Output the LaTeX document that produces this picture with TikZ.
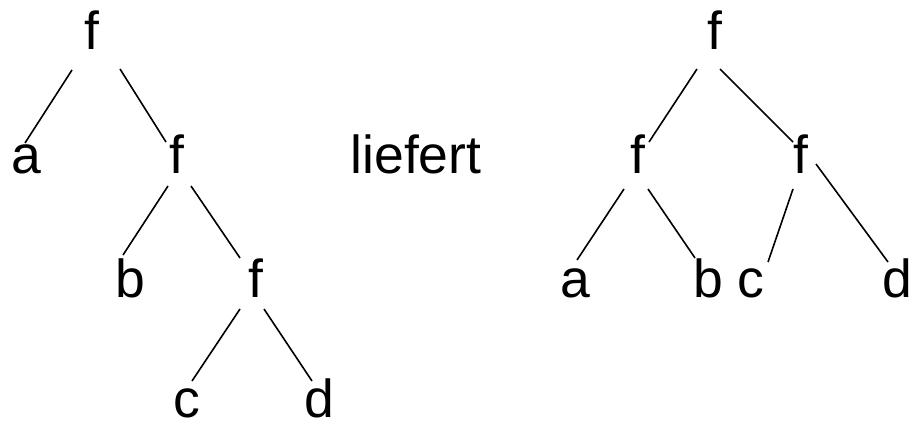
\documentclass[tikz,border=0pt]{standalone}
\usepackage{fontspec}
\setmainfont{Liberation Sans}
\begin{document}
\begin{tikzpicture}[x=1pt,y=-1pt,
  lbl/.style={anchor=base,inner sep=0pt,font=\fontsize{53.5}{60}\selectfont},
  edge/.style={line width=1.6pt,black}]
\useasboundingbox (0,0) rectangle (915,422);
% left tree
\node[lbl] (r1) at (92,50) {f};
\node[lbl] (a1) at (26,174) {a};
\node[lbl] (f2) at (177,174) {f};
\node[lbl] (b1) at (130,297) {b};
\node[lbl] (f3) at (256,297) {f};
\node[lbl] (c1) at (187,417) {c};
\node[lbl] (d1) at (319,417) {d};
% middle word
\node[lbl] (lf) at (416,174) {liefert};
% right tree
\node[lbl] (R) at (715,50) {f};
\node[lbl] (L) at (638,174) {f};
\node[lbl] (Rf) at (801,174) {f};
\node[lbl] (a2) at (575,297) {a};
\node[lbl] (b2) at (708,297) {b};
\node[lbl] (c2) at (751,297) {c};
\node[lbl] (d2) at (897,297) {d};
% left edges
\draw[edge] ([shift={(-20,20)}]r1.base) -- ([shift={(-1,-31)}]a1.base);
\draw[edge] ([shift={(28,19)}]r1.base) -- ([shift={(-11,-32)}]f2.base);
\draw[edge] ([shift={(-9,12)}]f2.base) -- ([shift={(-7,-42)}]b1.base);
\draw[edge] ([shift={(14,12)}]f2.base) -- ([shift={(-16,-39)}]f3.base);
\draw[edge] ([shift={(-16,12)}]f3.base) -- ([shift={(5,-36)}]c1.base);
\draw[edge] ([shift={(8,12)}]f3.base) -- ([shift={(-7,-36)}]d1.base);
% right edges
\draw[edge] ([shift={(-18,19)}]R.base) -- ([shift={(11,-32)}]L.base);
\draw[edge] ([shift={(5,19)}]R.base) -- ([shift={(-8,-32)}]Rf.base);
\draw[edge] ([shift={(-14,15)}]L.base) -- ([shift={(2,-37)}]a2.base);
\draw[edge] ([shift={(10,15)}]L.base) -- ([shift={(-13,-39)}]b2.base);
\draw[edge] ([shift={(-8,15)}]Rf.base) -- ([shift={(17,-35)}]c2.base);
\draw[edge] ([shift={(15,-10)}]Rf.base) -- ([shift={(-9,-35)}]d2.base);
\end{tikzpicture}
\end{document}
